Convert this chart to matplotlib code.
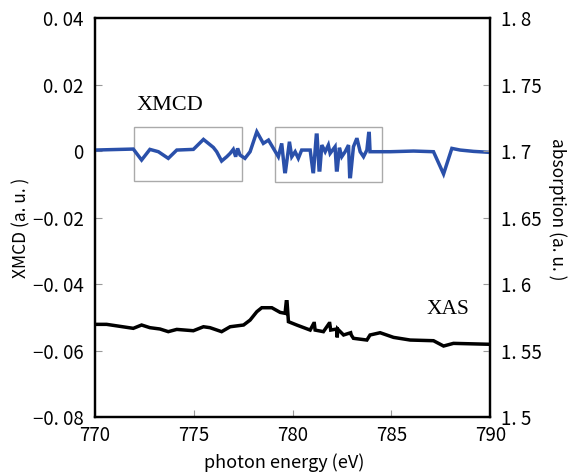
import matplotlib
matplotlib.use("Agg")
import matplotlib.pyplot as plt
from matplotlib.patches import Rectangle
from matplotlib.ticker import FuncFormatter

# XMCD curve (left axis)
xmcd_e = [770.0, 771.94, 772.36, 772.78, 773.21, 773.71, 774.14, 774.98, 775.49, 775.99,
          776.16, 776.41, 776.67, 776.84, 777.00, 777.12, 777.22, 777.34, 777.59, 777.85,
          778.19, 778.52, 778.78, 779.03, 779.28, 779.45, 779.60, 779.64, 779.84, 779.96,
          780.13, 780.29, 780.46, 780.89, 781.03, 781.06, 781.20, 781.24, 781.34, 781.38,
          781.48, 781.65, 781.81, 781.90, 782.15, 782.22, 782.26, 782.37, 782.49, 782.66,
          782.83, 782.89, 782.93, 783.08, 783.23, 783.27, 783.42, 783.59, 783.76, 783.85,
          783.88, 783.92, 784.94, 786.12, 787.13, 787.64, 788.06, 788.48, 789.16, 790.0]
xmcd_v = [0.0003, 0.0006, -0.0027, 0.0005, -0.0002, -0.0022, 0.0003, 0.0005, 0.0035, 0.0011,
          -0.0002, -0.0030, -0.0017, -0.0007, 0.0005, -0.0017, 0.0008, -0.0012, -0.0022, -0.0002,
          0.0058, 0.0023, 0.0033, 0.0008, -0.0017, 0.0023, -0.0062, -0.0062, 0.0028, -0.0017,
          -0.0002, -0.0022, 0.0003, 0.0003, -0.0062, -0.0062, 0.0048, 0.0048, -0.0057, -0.0057,
          0.0018, -0.0002, 0.0018, -0.0007, 0.0013, -0.0057, -0.0057, 0.0010, -0.0017, -0.0002,
          0.0018, -0.0077, -0.0077, 0.0013, 0.0035, 0.0035, -0.0002, -0.0017, 0.0003, 0.0053,
          0.0053, -0.0002, -0.0002, 0.0000, -0.0002, -0.0069, 0.0008, 0.0003, -0.0001, -0.0004]

# XAS curve (right axis)
xas_e = [770.0, 770.59, 771.94, 772.36, 772.78, 773.29, 773.71, 774.14, 774.98, 775.49,
         775.82, 776.41, 776.84, 777.52, 777.85, 778.19, 778.44, 778.95, 779.37, 779.62,
         779.68, 779.72, 779.79, 780.21, 780.89, 781.07, 781.10, 781.14, 781.56, 781.85,
         781.88, 781.93, 782.24, 782.26, 782.28, 782.58, 782.94, 782.97, 783.08, 783.76,
         783.92, 784.43, 785.11, 785.95, 787.13, 787.64, 788.14, 790.0]
xas_v = [1.5697, 1.5697, 1.5667, 1.5692, 1.5672, 1.5662, 1.5642, 1.5659, 1.5649, 1.5679,
         1.5672, 1.5642, 1.5679, 1.5692, 1.5729, 1.5792, 1.5822, 1.5822, 1.5787, 1.5780,
         1.5867, 1.5867, 1.5717, 1.5692, 1.5654, 1.5704, 1.5704, 1.5654, 1.5642, 1.5704,
         1.5704, 1.5654, 1.5662, 1.5599, 1.5662, 1.5617, 1.5634, 1.5617, 1.5592, 1.5579,
         1.5617, 1.5634, 1.5599, 1.5579, 1.5574, 1.5534, 1.5554, 1.5547]

# highlighted regions: (e_start, e_end, low, high)
boxes = [(771.99, 777.42, -0.0089, 0.0073), (779.11, 784.55, -0.0092, 0.0071)]

left_ticks = [-0.08, -0.06, -0.04, -0.02, 0, 0.02, 0.04]
right_ticks = [1.5, 1.55, 1.6, 1.65, 1.7, 1.75, 1.8]
x_ticks = [770, 775, 780, 785, 790]

jp = ["Noto Sans CJK JP", "DejaVu Sans"]
plt.rcParams["font.family"] = jp

fig = plt.figure(figsize=(5.72, 4.75), dpi=100)
ax = fig.add_axes([0.166, 0.122, 0.691, 0.840])
ax2 = ax.twinx()

ax.plot(xmcd_e, xmcd_v, color="#2a50aa", lw=2.5, solid_joinstyle="miter", zorder=3)
ax2.plot(xas_e, xas_v, color="black", lw=2.5, solid_joinstyle="miter", zorder=3)

for e0, e1, lo, hi in boxes:
    ax.add_patch(Rectangle((e0, lo), e1 - e0, hi - lo, fill=False,
                           edgecolor="#aaaaaa", lw=1.0, zorder=2))

ax.set_xlim(770, 790)
ax.set_ylim(-0.08, 0.04)
ax2.set_ylim(1.5, 1.8)
ax.set_xticks(x_ticks)
ax.set_yticks(left_ticks)
ax2.set_yticks(right_ticks)


def left_fmt(v, pos):
    if abs(v) < 1e-9:
        return "0"
    s = "%.2f" % v
    return s.replace("-", "\u2212").replace(".", ". ")


def right_fmt(v, pos):
    s = ("%.2f" % v).rstrip("0")
    return s.replace(".", ". ")


ax.yaxis.set_major_formatter(FuncFormatter(left_fmt))
ax2.yaxis.set_major_formatter(FuncFormatter(right_fmt))

ax.tick_params(axis="y", direction="in", length=5, width=0.8, color="#999999",
               labelsize=13.5, pad=8)
ax.tick_params(axis="x", direction="in", length=5, width=0.8, color="#999999",
               labelsize=13.5, pad=6)
ax2.tick_params(axis="y", direction="in", length=5, width=0.8, color="#999999",
                labelsize=13.5, pad=8)

for a in (ax, ax2):
    for sp in a.spines.values():
        sp.set_linewidth(1.6)
        sp.set_color("black")

ax.text(772.1, 0.0138, "XMCD", family="Liberation Serif", fontsize=16,
        va="center", ha="left")
ax2.text(786.8, 1.5805, "XAS", family="Liberation Serif", fontsize=15.5,
         va="center", ha="left")

fig.text(0.037, 0.52, "XMCD (a. u. )", rotation=90, ha="center", va="center",
         fontsize=12.5)
fig.text(0.974, 0.56, "absorption (a. u. )", rotation=-90, ha="center", va="center",
         fontsize=12.5)
fig.text(0.497, 0.025, "photon energy (eV)", ha="center", va="center", fontsize=13)

fig.savefig("out.png", dpi=100)
